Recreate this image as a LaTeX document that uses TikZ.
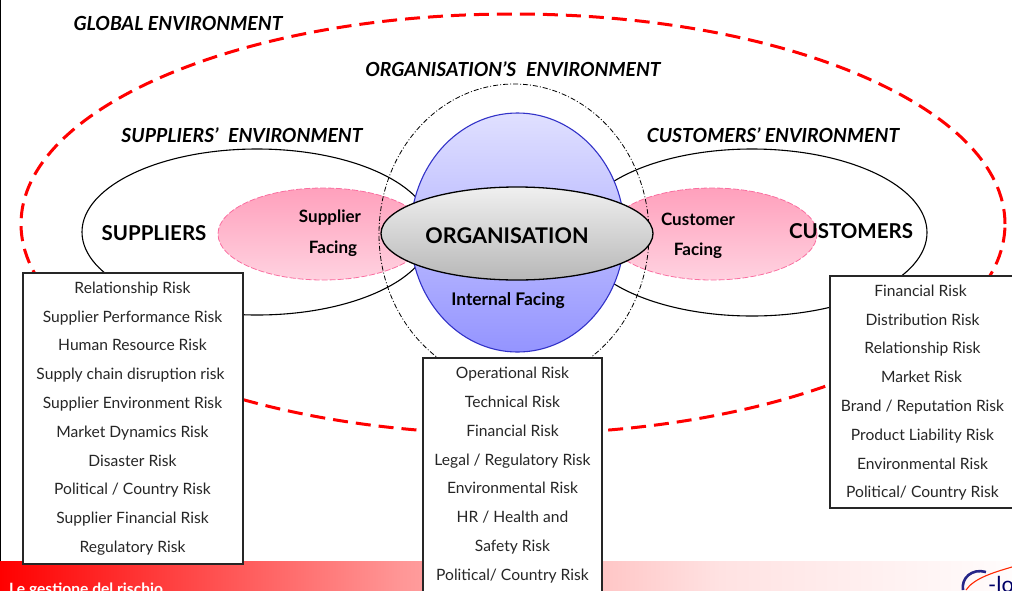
\documentclass[tikz,border=0pt]{standalone}
\usepackage{fontspec}
\setmainfont{Lato}
\usetikzlibrary{shapes.geometric}
\definecolor{pinkA}{RGB}{255,160,188}
\definecolor{pinkB}{RGB}{255,210,224}
\definecolor{pinkE}{RGB}{250,110,160}
\definecolor{blueA}{RGB}{224,224,255}
\definecolor{blueB}{RGB}{148,148,255}
\definecolor{blueE}{RGB}{50,50,200}
\definecolor{footA}{RGB}{255,150,150}
\definecolor{footB}{RGB}{255,226,226}
\definecolor{footC}{RGB}{255,252,252}
\tikzset{
  px/.style={x=1pt,y=-1pt},
  env/.style={font=\fontsize{19.4}{22}\selectfont\bfseries\itshape,inner sep=0pt,text=black},
  riskbox/.style={draw=black!85,line width=1.2pt,fill=white},
  risk/.style={font=\fontsize{15.6}{18}\selectfont,text=black!85,inner sep=0pt,anchor=base},
  mainlab/.style={font=\fontsize{20.5}{24}\selectfont\bfseries,inner sep=0pt,text=black},
  facelab/.style={font=\fontsize{17}{20}\selectfont\bfseries,inner sep=0pt,text=black},
  outline/.style={draw=black,line width=1.1pt},
  facing/.style={draw=pinkE,line width=0.8pt,dash pattern=on 6pt off 2pt,top color=pinkA,bottom color=pinkB,minimum width=210pt,minimum height=92pt,inner sep=0pt},
}
\begin{document}
\begin{tikzpicture}[px]
\useasboundingbox (0,0) rectangle (1012,590);
\draw[black,line width=1.2pt] (0.6,0) -- (0.6,561);
% footer band
\fill[left color=red,right color=footA] (0,561) rectangle (400.5,590);
\fill[left color=footA,right color=footB] (400,561) rectangle (720.5,590);
\fill[left color=footB,right color=footC] (720,561) rectangle (1012,590);
\node[anchor=base west,inner sep=0pt,text=white,font=\fontsize{15.6}{17}\selectfont\bfseries] (footer) at (9,594.5) {Le gestione del rischio};
% logo fragment
\begin{scope}
\clip (950,561) rectangle (1012,590);
\draw[blue!45!black!85,line width=2.6pt] (986,572) .. controls (972,568) and (961,578) .. (963,590);
\draw[red!70!orange,line width=1.1pt] (966,590) .. controls (974,578) and (995,572) .. (1012,567);
\node[anchor=base west,inner sep=0pt,text=blue!40!black,font=\fontsize{22}{24}\selectfont] (logo) at (988,592) {-lo};
\end{scope}
% global
\node[ellipse,draw=red,line width=3pt,dash pattern=on 15pt off 8pt,minimum width=984pt,minimum height=420pt,inner sep=0pt] (global) at (513,224) {};
% suppliers and customers
\node[ellipse,outline,minimum width=350pt,minimum height=166pt,inner sep=0pt] (suppliers) at (257,232) {};
\node[ellipse,outline,minimum width=350pt,minimum height=167pt,inner sep=0pt] (customers) at (752,232.5) {};
% facing
\node[ellipse,facing] (supface) at (323,234) {};
\node[ellipse,facing] (cusface) at (712,234) {};
% organisation's environment
\node[ellipse,draw=black,line width=0.8pt,dash pattern=on 5pt off 2pt on 1pt off 2pt,minimum width=270pt,minimum height=300pt,inner sep=0pt] (orgenv) at (514,234) {};
% blue
\node[ellipse,draw=blueE,line width=1.1pt,top color=blueA,bottom color=blueB,minimum width=214pt,minimum height=239pt,inner sep=0pt] (internal) at (517.5,232.5) {};
% grey
\node[ellipse,draw=black,line width=1.3pt,top color=black!6,bottom color=black!28,minimum width=272pt,minimum height=93pt,inner sep=0pt] (org) at (517,233.5) {};
% labels
\node[env] (l1) at (178,23) {GLOBAL ENVIRONMENT};
\node[env] (l2) at (513,69) {ORGANISATION’S\hspace{0.5em}ENVIRONMENT};
\node[env] (l3) at (242,135) {SUPPLIERS’\hspace{0.5em}ENVIRONMENT};
\node[env] (l4) at (773,135) {CUSTOMERS’ ENVIRONMENT};
\node[mainlab] (t1) at (154,233) {SUPPLIERS};
\node[mainlab] (t2) at (851,231) {CUSTOMERS};
\node[mainlab,font=\fontsize{21.6}{24}\selectfont\bfseries] (t3) at (507,236) {ORGANISATION};
\node[facelab] (f1) at (330,218) {Supplier};
\node[facelab] (f2) at (333,249) {Facing};
\node[facelab] (f3) at (698,219) {Customer};
\node[facelab] (f4) at (698,251) {Facing};
\node[facelab,font=\fontsize{17.4}{20}\selectfont\bfseries] (f5) at (508,301) {Internal Facing};
% boxes
\draw[riskbox] (23,273) rectangle (243,564);
\draw[riskbox] (423,358) rectangle (602,596);
\draw[riskbox] (830,276) rectangle (1016,508);
% left list
\node[risk] (a1) at (132.5,293) {Relationship Risk};
\node[risk] (a2) at (132.5,322) {Supplier Performance Risk};
\node[risk] (a3) at (132.5,350) {Human Resource Risk};
\node[risk] (a4) at (130.5,379) {Supply chain disruption risk};
\node[risk] (a5) at (132.5,408) {Supplier Environment Risk};
\node[risk] (a6) at (132.5,437) {Market Dynamics Risk};
\node[risk] (a7) at (132.5,466) {Disaster Risk};
\node[risk] (a8) at (132.5,494) {Political / Country Risk};
\node[risk] (a9) at (132.5,523) {Supplier Financial Risk};
\node[risk] (a10) at (132.5,552) {Regulatory Risk};
% centre list
\node[risk] (b1) at (512.5,378) {Operational Risk};
\node[risk] (b2) at (512.5,407) {Technical Risk};
\node[risk] (b3) at (512.5,436) {Financial Risk};
\node[risk] (b4) at (512.5,465) {Legal / Regulatory Risk};
\node[risk] (b5) at (512.5,493) {Environmental Risk};
\node[risk] (b6) at (512.5,522) {HR / Health and};
\node[risk] (b7) at (512.5,551) {Safety Risk};
\node[risk] (b8) at (512.5,580) {Political/ Country Risk};
% right list
\node[risk] (c1) at (920.5,296) {Financial Risk};
\node[risk] (c2) at (922.5,325) {Distribution Risk};
\node[risk] (c3) at (922.5,353) {Relationship Risk};
\node[risk] (c4) at (921.5,382) {Market Risk};
\node[risk] (c5) at (922.5,411) {Brand / Reputation Risk};
\node[risk] (c6) at (922.5,440) {Product Liability Risk};
\node[risk] (c7) at (922.5,469) {Environmental Risk};
\node[risk] (c8) at (922.5,497) {Political/ Country Risk};
\end{tikzpicture}
\end{document}
